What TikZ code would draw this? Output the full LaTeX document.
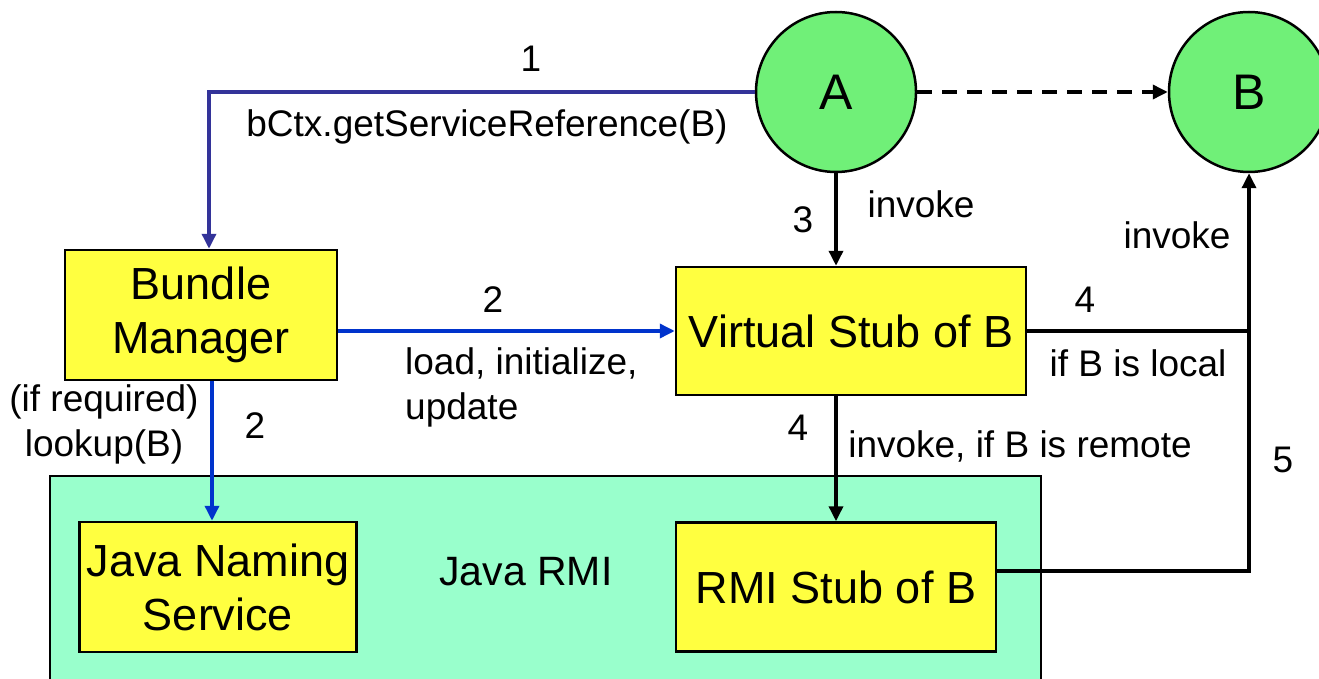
\documentclass[tikz,border=0pt]{standalone}
\usepackage{fontspec}
\setmainfont{Liberation Sans}
\usetikzlibrary{arrows.meta,calc}

\definecolor{boxyellow}{HTML}{FFFF40}
\definecolor{bundlegreen}{HTML}{70F078}
\definecolor{rmiteal}{HTML}{99FFCC}
\definecolor{navyline}{HTML}{333399}
\definecolor{blueline}{HTML}{0033CC}

\tikzset{
  bigtext/.style={font=\fontsize{45}{54}\selectfont},
  smalltext/.style={font=\fontsize{37}{45}\selectfont},
  ybox/.style={draw=black, line width=2.5pt, fill=boxyellow, align=center,
               inner sep=0pt, bigtext},
  bundle/.style={circle, draw=black, line width=2.5pt, fill=bundlegreen,
                 minimum size=160pt, inner sep=0pt, font=\fontsize{50}{60}\selectfont},
  container/.style={draw=black, line width=2.5pt, fill=rmiteal, inner sep=0pt},
  lbl/.style={smalltext, inner sep=0pt, anchor=base},
  tip/.style={-{Triangle[length=15pt,width=14pt]}},
  conn/.style={line width=3.5pt, black},
  navyconn/.style={line width=3.5pt, navyline},
  blueconn/.style={line width=3.5pt, blueline},
}

\begin{document}
\begin{tikzpicture}[x=1pt,y=-1pt]
\useasboundingbox (0,0) rectangle (1319,679);

% Java RMI container
\node[container, minimum width=991pt, minimum height=220pt] (rmi) at (545.5,586) {};
\node[font=\fontsize{41}{49}\selectfont, inner sep=0pt] (rmilabel) at (526,572) {Java RMI};

% bundles
\node[bundle] (A) at (836,92) {A};
\node[bundle] (B) at (1249,92) {B};

% boxes
\node[ybox, minimum width=272pt, minimum height=130pt] (BM) at (201,315) {Bundle\\Manager};
\node[ybox, minimum width=350pt, minimum height=128pt] (VSB) at (851,331) {Virtual Stub of B};
\node[ybox, minimum width=277pt, minimum height=130pt] (JNS) at (218,587) {Java Naming\\Service};
\node[ybox, minimum width=320pt, minimum height=129pt] (RMI) at (836,587) {RMI Stub of B};

% 1: lookup of the service reference
\coordinate (bend1) at ($(BM.north)+(8,-159)$);
\draw[navyconn, tip] (A.west) -- (A.west -| bend1) -- (bend1 |- BM.north);
\node[lbl] (l1) at (531,72) {1};
\node[lbl] (l1b) at (487,137) {bCtx.getServiceReference(B)};

% 2: load / initialize / update
\draw[blueconn, tip] (VSB.west -| BM.east) -- (VSB.west);
\node[lbl] (l2) at (493,312) {2};
\node[smalltext, inner sep=0pt, anchor=west, align=left] (l2b) at (405,387) {load, initialize,\\update};

% 2: naming lookup
\coordinate (down2) at ($(BM.south)+(11,0)$);
\draw[blueconn, tip] (down2) -- (down2 |- JNS.north);
\node[lbl] (l2c) at (255,438) {2};
\node[smalltext, inner sep=0pt, align=center] (l2d) at (104,424) {(if required)\\lookup(B)};

% dashed dependency A -> B
\draw[conn, tip, dash pattern=on 15pt off 10pt] (A.east) -- (B.west);

% 3: invoke the virtual stub
\draw[conn, tip] (A.south) -- (A.south |- VSB.north);
\node[lbl] (l3) at (803,232) {3};
\node[lbl] (l3b) at (921,217) {invoke};

% 4: local call
\coordinate (join4) at (VSB.east -| B.south);
\draw[conn] (VSB.east) -- (join4);
\node[lbl] (l4) at (1085,312) {4};
\node[lbl] (l4b) at (1138,376) {if B is local};

% 4: remote call
\draw[conn, tip] (RMI.north |- VSB.south) -- (RMI.north);
\node[lbl] (l4c) at (798,440) {4};
\node[lbl] (l4d) at (1020,457) {invoke, if B is remote};

% 5: RMI stub invokes B
\coordinate (out5) at ($(RMI.east)+(0,-16)$);
\draw[conn, tip] (out5) -- (out5 -| B.south) -- (B.south);
\node[lbl] (l5) at (1283,472) {5};
\node[lbl] (l5b) at (1177,248) {invoke};
\end{tikzpicture}
\end{document}
